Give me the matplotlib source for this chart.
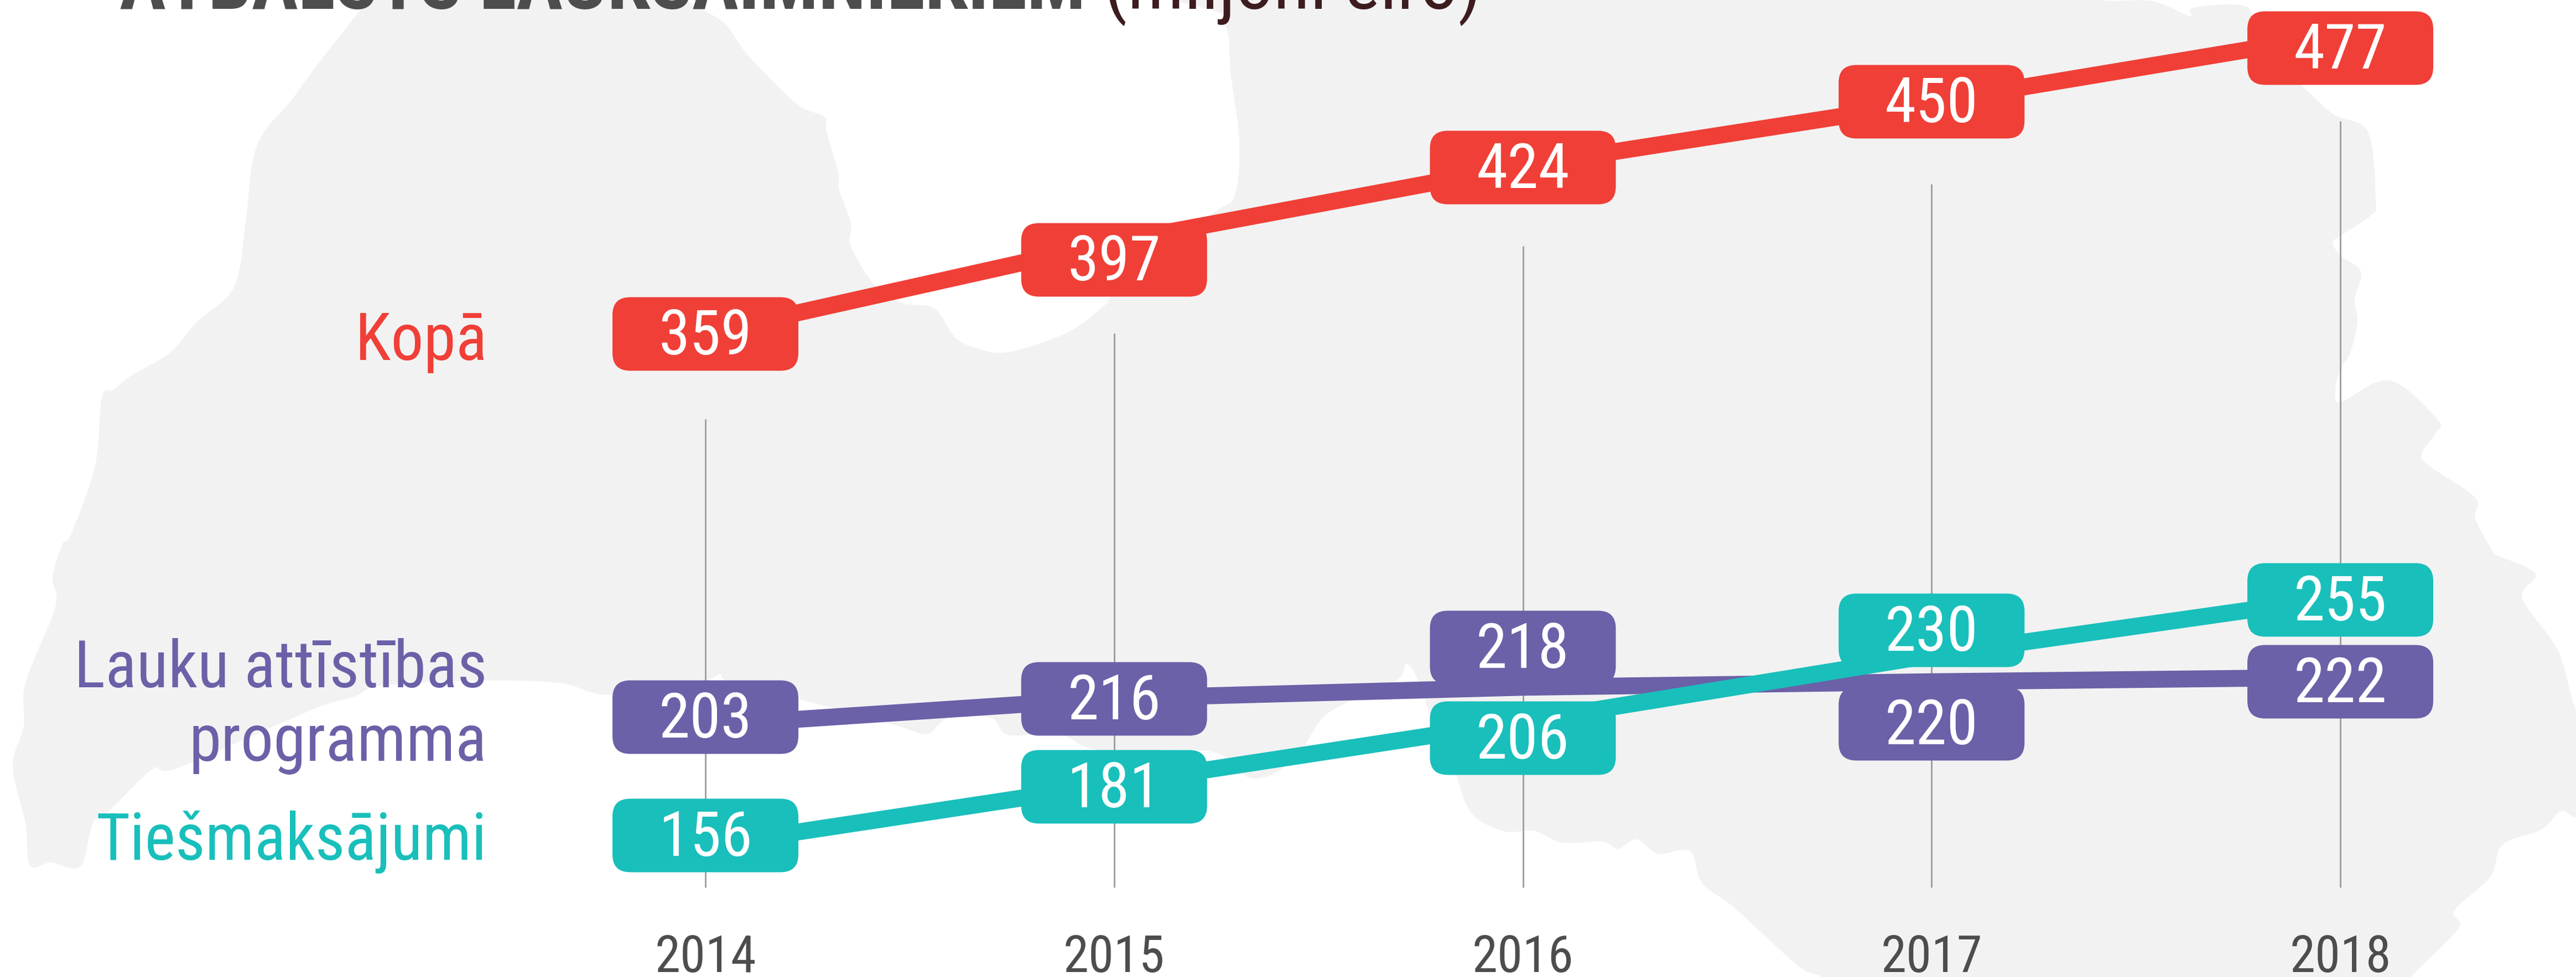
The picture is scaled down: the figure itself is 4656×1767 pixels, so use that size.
import matplotlib
matplotlib.use("Agg")
import matplotlib.pyplot as plt
import numpy as np
from matplotlib.patches import FancyBboxPatch, PathPatch
from matplotlib.path import Path
from matplotlib.transforms import IdentityTransform, blended_transform_factory

plt.rcParams["font.family"] = ["Roboto Condensed", "DejaVu Sans"]

W, H = 4656, 1767

years = [2014, 2015, 2016, 2017, 2018]
kopa = [359, 397, 424, 450, 477]
lauku = [203, 216, 218, 220, 222]
tiesmaksajumi = [156, 181, 206, 230, 255]

RED = "#f03f37"
PURPLE = "#6a61a8"
TEAL = "#19bfbb"

# the original infographic's vertical axis is hand placed and not quite linear
scale_values = [103, 156, 181, 203, 206, 216, 218, 220, 222, 230, 255, 359, 397, 424, 450, 477, 491]
scale_pixels = [1767, 1530, 1418, 1312, 1305, 1263, 1243, 1233, 1225, 1185, 1080, 603, 438, 300, 185, 62, 0]

# label box nudges (px, down is positive), same order as years
kopa_nudge = [1, 32, 3, -1, 25]
lauku_nudge = [-15, 1, -72, 76, 8]
ties_nudge = [-19, 5, 30, -45, 5]

grid_tops = [758, 603, 445, 333, 219]
GRID_BOTTOM = 1605
BOX_W, BOX_H = 336, 133

# Latvia silhouette behind the chart, in image pixels
map_outline = [
    (663, 0), (572, 119), (526, 182), (477, 239), (456, 295), (444, 400), (423, 519),
    (356, 582), (307, 638), (236, 680), (207, 704), (184, 719), (172, 842), (129, 965),
    (112, 986), (95, 1045), (100, 1098), (46, 1235), (43, 1313), (23, 1386), (46, 1489),
    (54, 1565), (92, 1560), (145, 1567), (168, 1489), (199, 1465), (276, 1391), (321, 1389),
    (544, 1292), (589, 1274), (643, 1259), (689, 1240), (857, 1231), (1010, 1235),
    (1102, 1257), (1263, 1235), (1301, 1220), (1324, 1235), (1500, 1279), (1623, 1313),
    (1676, 1327), (1715, 1298), (1791, 1298), (1822, 1329), (1914, 1328), (1990, 1357),
    (2188, 1359), (2264, 1408), (2341, 1372), (2400, 1290), (2522, 1232), (2541, 1201),
    (2561, 1226), (2587, 1298), (2630, 1398), (2659, 1470), (2717, 1503), (2774, 1503),
    (2824, 1524), (2896, 1522), (2925, 1535), (2958, 1518), (2997, 1544), (3055, 1539),
    (3076, 1597), (3134, 1641), (3249, 1746), (3292, 1767), (3320, 1800), (4340, 1800),
    (4357, 1767), (4443, 1680), (4436, 1647), (4501, 1586), (4523, 1528), (4594, 1500),
    (4628, 1467), (4656, 1478), (4690, 1470), (4690, 1290), (4656, 1282), (4623, 1176),
    (4559, 1082), (4583, 1038), (4515, 1005), (4507, 1000), (4474, 938), (4474, 900),
    (4390, 842), (4377, 820), (4401, 785), (4406, 759), (4319, 688), (4231, 727),
    (4221, 708), (4229, 670), (4248, 638), (4261, 581), (4256, 542), (4267, 491),
    (4231, 463), (4216, 440), (4226, 429), (4286, 389), (4294, 364), (4280, 239),
    (4218, 207), (4158, 153), (4075, 80), (4062, 13), (3964, 14), (3958, 29), (3890, 2),
    (3800, 0), (3800, -30), (2205, -30), (2211, 28), (2221, 69), (2224, 129), (2240, 257),
    (2232, 353), (2199, 381), (2100, 450), (2008, 537), (2000, 549), (1930, 601),
    (1822, 637), (1764, 629), (1726, 610), (1689, 558), (1631, 548), (1581, 516),
    (1538, 445), (1538, 404), (1517, 344), (1515, 312), (1494, 239), (1490, 211),
    (1440, 188), (1353, 101), (1308, 41), (1241, 0), (1241, -30), (663, -30),
]


def smooth_closed(pts):
    # catmull-rom through the traced points, written as cubic beziers
    pts = np.array(pts, float)
    n = len(pts)
    verts = [pts[0]]
    codes = [Path.MOVETO]
    for i in range(n):
        p0, p1, p2, p3 = pts[i - 1], pts[i], pts[(i + 1) % n], pts[(i + 2) % n]
        verts += [p1 + (p2 - p0) / 6, p2 - (p3 - p1) / 6, p2]
        codes += [Path.CURVE4] * 3
    return Path(verts, codes)


def forward(v):
    return np.interp(v, scale_values, -np.array(scale_pixels, float))


def inverse(p):
    return np.interp(p, -np.array(scale_pixels, float), scale_values)


fig = plt.figure(figsize=(W / 100, H / 100), dpi=100)

bg = fig.add_axes([0, 0, 1, 1], zorder=0)
bg.set_xlim(0, W)
bg.set_ylim(H, 0)
bg.axis("off")
bg.add_patch(PathPatch(smooth_closed(map_outline), facecolor="#f2f2f2", edgecolor="none"))

chart = fig.add_axes([0, 0, 1, 1], zorder=1)
chart.patch.set_visible(False)
chart.set_yscale("function", functions=(forward, inverse))
chart.set_xlim(2014 - 1275 / 738.75, 2014 + (W - 1275) / 738.75)
chart.set_ylim(scale_values[0], scale_values[-1])
chart.axis("off")

grid_tf = blended_transform_factory(chart.transData, bg.transData)
for yr, top in zip(years, grid_tops):
    chart.plot([yr, yr], [top, GRID_BOTTOM], color="#9a9a9a", lw=2, transform=grid_tf,
               solid_capstyle="butt", zorder=1)


def draw_series(values, nudges, color, z):
    chart.plot(years, values, color=color, lw=22, solid_capstyle="butt", zorder=z)
    for yr, v, nudge in zip(years, values, nudges):
        cx, cy = chart.transData.transform((yr, v))
        cy -= nudge
        chart.add_patch(FancyBboxPatch(
            (cx - BOX_W / 2 + 32, cy - BOX_H / 2 + 32), BOX_W - 64, BOX_H - 64,
            boxstyle="round,pad=32,rounding_size=32", facecolor=color, edgecolor="none",
            transform=IdentityTransform(), zorder=z + 0.1))
        chart.text(cx, cy - 37, str(v), color="white", fontsize=82, ha="center", va="baseline",
                   transform=IdentityTransform(), zorder=z + 0.2)


draw_series(lauku, lauku_nudge, PURPLE, 2)
draw_series(tiesmaksajumi, ties_nudge, TEAL, 3)
draw_series(kopa, kopa_nudge, RED, 4)

# series names, right aligned
LABEL_X = 880
LABEL_SIZE = 85
bg.text(LABEL_X, 651, "Kopā", color=RED, fontsize=LABEL_SIZE, ha="right", va="baseline")
bg.text(LABEL_X, 1243, "Lauku attīstības", color=PURPLE, fontsize=LABEL_SIZE, ha="right", va="baseline")
bg.text(LABEL_X, 1376, "programma", color=PURPLE, fontsize=LABEL_SIZE, ha="right", va="baseline")
bg.text(LABEL_X, 1555, "Tiešmaksājumi", color=TEAL, fontsize=LABEL_SIZE, ha="right", va="baseline")

for yr in years:
    x = chart.transData.transform((yr, 300))[0]
    bg.text(x, 1758, str(yr), color="#4d4d4d", fontsize=67, ha="center", va="baseline")

# title runs off the top edge in the reference too
bg.text(216, 16, "ATBALSTS LAUKSAIMNIEKIEM", color="#4d4d4d", fontsize=101, fontweight="bold",
        ha="left", va="baseline")
bg.text(1995, 16, "(miljoni eiro)", color="#3d1c1f", fontsize=98, ha="left", va="baseline")

fig.savefig("out.png")
